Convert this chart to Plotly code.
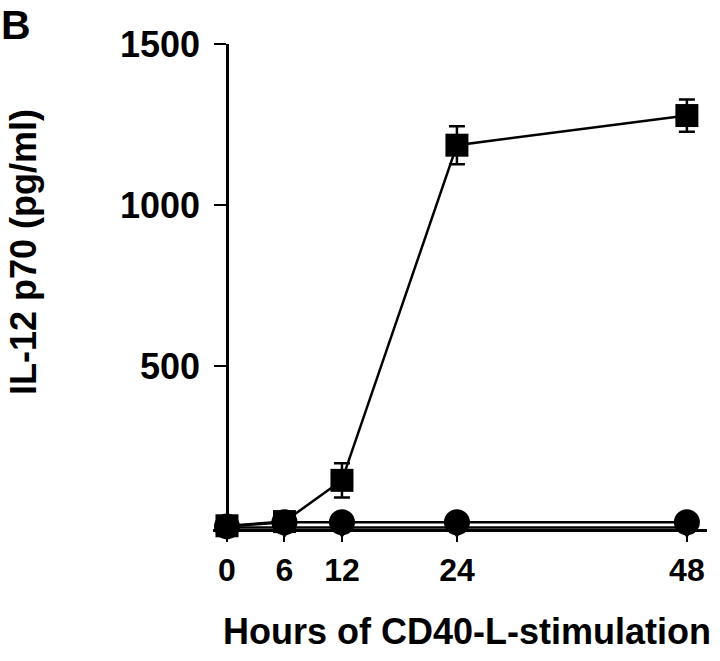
import plotly.graph_objects as go

hours = [0, 6, 12, 24, 48]
il12_square = [5, 18, 146, 1186, 1278]
il12_square_err = [0, 0, 53, 59, 50]
il12_circle = [3, 16, 16, 16, 16]
il12_triangle = [0, 0, 0, 0, 0]

x_ticks = [0, 6, 12, 24, 48]
y_ticks = [500, 1000, 1500]

FONT = "Liberation Sans, Arial, Helvetica, sans-serif"
L, R, T, B = 213, 13, 44, 132
W, H = 720, 661
xr = [-1.46, 50.1]
yr = [-5, 1500]
ypos = (0 - xr[0]) / (xr[1] - xr[0])

def px_x(p):
    return (p - L) / (W - L - R)

def px_y(p):
    return (H - B - p) / (H - T - B)

fig = go.Figure()
fig.add_trace(go.Scatter(
    x=hours, y=il12_triangle, mode="lines+markers",
    line=dict(color="black", width=2.5),
    marker=dict(symbol="triangle-down", size=21, color="black"),
    showlegend=False, cliponaxis=False, hoverinfo="skip"))
fig.add_trace(go.Scatter(
    x=hours, y=il12_circle, mode="lines+markers",
    line=dict(color="black", width=2.5),
    marker=dict(symbol="circle", size=26, color="black"),
    showlegend=False, cliponaxis=False, hoverinfo="skip"))
fig.add_trace(go.Scatter(
    x=hours, y=il12_square, mode="lines+markers",
    line=dict(color="black", width=2.5),
    marker=dict(symbol="square", size=23, color="black"),
    error_y=dict(type="data", array=il12_square_err, visible=True,
                 color="black", thickness=2.5, width=8),
    showlegend=False, cliponaxis=False, hoverinfo="skip"))

fig.update_layout(
    width=W, height=H,
    margin=dict(l=L, r=R, t=T, b=B, autoexpand=False),
    paper_bgcolor="white", plot_bgcolor="white",
    xaxis=dict(range=xr, showgrid=False, zeroline=False, showline=True,
               automargin=False,
               linecolor="black", linewidth=2.5, ticks="outside", ticklen=10,
               tickwidth=2, tickcolor="black", tickvals=x_ticks,
               ticktext=[str(v) for v in x_ticks],
               tickfont=dict(family=FONT, size=32, color="black", weight="bold"),
               ticklabelstandoff=1),
    yaxis=dict(range=yr, showgrid=False, zeroline=False, showline=True,
               automargin=False,
               linecolor="black", linewidth=2.5, ticks="outside", ticklen=12,
               tickwidth=2, tickcolor="black", tickvals=y_ticks,
               ticktext=[str(v) for v in y_ticks],
               anchor="free", position=ypos,
               tickfont=dict(family=FONT, size=36, color="black", weight="bold"),
               ticklabelstandoff=7),
    annotations=[
        dict(text="IL-12 p70 (pg/ml)", textangle=-90, xref="paper", yref="paper",
             x=px_x(23), y=px_y(252), xanchor="center", yanchor="middle",
             showarrow=False,
             font=dict(family=FONT, size=36, color="black", weight="bold")),
        dict(text="Hours of CD40-L-stimulation", xref="paper", yref="paper",
             x=px_x(467), y=px_y(631), xanchor="center", yanchor="middle",
             showarrow=False,
             font=dict(family=FONT, size=36, color="black", weight="bold")),
        dict(text="B", xref="paper", yref="paper",
             x=px_x(0), y=px_y(1), xanchor="left", yanchor="top",
             showarrow=False, borderpad=0,
             font=dict(family=FONT, size=41, color="black", weight="bold")),
    ],
)

fig.write_html("out.html", config={"displayModeBar": False},
               post_script="document.body.style.margin='0';")
